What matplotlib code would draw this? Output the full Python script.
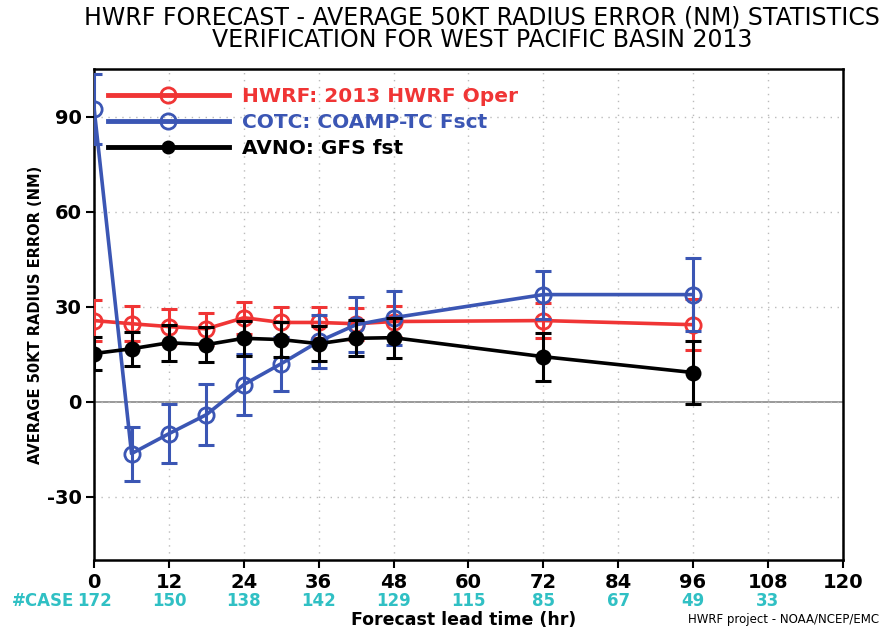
import matplotlib
matplotlib.use('Agg')
import matplotlib.pyplot as plt
from matplotlib.lines import Line2D

# forecast lead times (hr)
hours = [0, 6, 12, 18, 24, 30, 36, 42, 48, 72, 96]

hwrf = [25.6, 24.6, 23.7, 23.0, 26.5, 25.0, 25.0, 24.6, 25.3, 25.6, 24.3]
hwrf_err = [6.5, 5.5, 5.5, 5.0, 5.0, 5.0, 5.0, 5.0, 5.0, 5.5, 8.0]

cotc = [92.5, -16.4, -10.1, -4.1, 5.4, 12.0, 19.0, 24.3, 26.5, 33.8, 33.8]
cotc_err = [11.0, 8.5, 9.4, 9.7, 9.7, 8.5, 8.4, 8.7, 8.5, 7.6, 11.5]

avno = [15.2, 16.7, 18.6, 18.0, 20.0, 19.6, 18.3, 20.0, 20.2, 14.2, 9.2]
avno_err = [5.3, 5.4, 5.7, 5.5, 5.6, 5.5, 5.6, 5.7, 6.3, 7.6, 10.0]

case_hours = [0, 12, 24, 36, 48, 60, 72, 84, 96, 108]
case_counts = [172, 150, 138, 142, 129, 115, 85, 67, 49, 33]

labels = ['HWRF: 2013 HWRF Oper', 'COTC: COAMP-TC Fsct', 'AVNO: GFS fst']
RED = '#f03535'
BLUE = '#3b56b4'
BLACK = 'black'
CYAN = '#30c0c4'

plt.rcParams['font.family'] = ['DejaVu Sans']
plt.rcParams['axes.unicode_minus'] = False

fig = plt.figure(figsize=(8.88, 6.31), dpi=100)
ax = fig.add_axes([0.106, 0.1125, 0.843, 0.778])

series = [
    (hwrf, hwrf_err, RED, 'none', 11, 3),
    (cotc, cotc_err, BLUE, 'none', 11, 4),
    (avno, avno_err, BLACK, BLACK, 9.5, 5),
]
for vals, errs, col, face, size, z in series:
    ax.errorbar(hours, vals, yerr=errs, fmt='none', ecolor=col, elinewidth=2.2,
                capsize=6, capthick=2.2, zorder=z)
    ax.plot(hours, vals, color=col, lw=2.6, marker='o', ms=size,
            mfc=face, mec=col, mew=2, zorder=z)

ax.set_xlim(0, 120)
ax.set_ylim(-50, 105)
ax.set_xticks(range(0, 121, 12))
ax.set_yticks([-30, 0, 30, 60, 90])
ax.grid(True, color='#bbbbbb', linestyle=(0, (1, 4)), lw=1)
ax.axhline(0, color='#888888', lw=1.2, zorder=1)
for s in ax.spines.values():
    s.set_linewidth(1.8)
ax.tick_params(axis='both', direction='out', length=6, width=1.5, labelsize=14, pad=3)
for t in ax.get_xticklabels() + ax.get_yticklabels():
    t.set_fontweight('bold')

ax.set_ylabel('AVERAGE 50KT RADIUS ERROR (NM)', fontsize=10.5, fontweight='bold')
ax.yaxis.set_label_coords(-0.068, 0.5)

# legend
handles = [
    Line2D([], [], color=RED, lw=3.5, marker='o', ms=11, mfc='none', mec=RED, mew=2),
    Line2D([], [], color=BLUE, lw=3.5, marker='o', ms=11, mfc='none', mec=BLUE, mew=2),
    Line2D([], [], color=BLACK, lw=3.5, marker='o', ms=9, mfc=BLACK, mec=BLACK),
]
leg = ax.legend(handles, labels, loc='upper left', bbox_to_anchor=(-0.006, 1.0),
                frameon=False, handlelength=6.0, handletextpad=0.65,
                labelspacing=0.34, borderaxespad=0.5,
                labelcolor=[RED, BLUE, BLACK], prop={'weight': 'bold', 'size': 14.5})

# case counts row
xt = ax.get_xaxis_transform()
for h, c in zip(case_hours, case_counts):
    ax.text(h, -0.083, str(c), transform=xt, ha='center', va='center',
            color=CYAN, fontsize=12, fontweight='bold')
ax.text(-3.2, -0.083, '#CASE', transform=xt, ha='right', va='center',
        color=CYAN, fontsize=12, fontweight='bold')

fig.text(0.522, 0.0175, 'Forecast lead time (hr)', ha='center', va='center',
         fontsize=12.5, fontweight='bold')
fig.text(0.99, 0.0175, 'HWRF project - NOAA/NCEP/EMC', ha='right', va='center',
         fontsize=8.5)

fig.text(0.543, 0.973, 'HWRF FORECAST - AVERAGE 50KT RADIUS ERROR (NM) STATISTICS',
         ha='center', va='center', fontsize=17)
fig.text(0.543, 0.937, 'VERIFICATION FOR WEST PACIFIC BASIN 2013',
         ha='center', va='center', fontsize=17)

fig.savefig('out.png', dpi=100)
